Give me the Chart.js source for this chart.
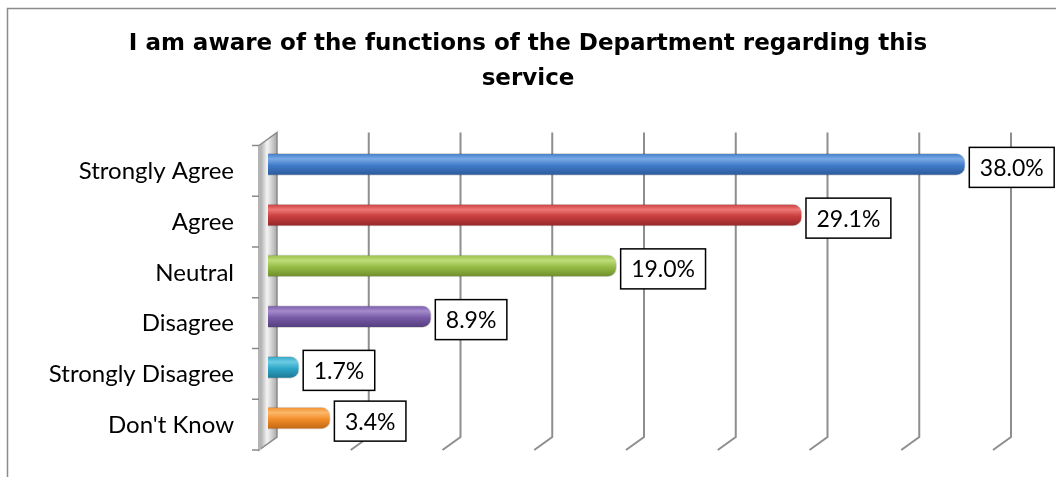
<!DOCTYPE html>
<html>
<head>
<meta charset="utf-8">
<title>Department functions awareness</title>
<script src="https://cdn.jsdelivr.net/npm/chart.js@4"></script>
<style>
  html, body { margin: 0; padding: 0; background: #fff; }
  #wrap { width: 1056px; height: 477px; }
</style>
</head>
<body>
<div id="wrap"><canvas id="awareness-chart" width="1056" height="477"></canvas></div>
<script>
// Survey responses
const titleLines = ['I am aware of the functions of the Department regarding this', 'service'];
const categories = ['Strongly Agree', 'Agree', 'Neutral', 'Disagree', 'Strongly Disagree', "Don't Know"];
const percentages = [38.0, 29.1, 19.0, 8.9, 1.7, 3.4];
const axisMin = 0;
const axisMax = 40;
const gridStep = 5;

// top highlight, body, shadow for each bar
const barShades = [
    ['#79aae6', '#3f7bc8', '#2a5899'],
    ['#ee7676', '#c93d3d', '#922828'],
    ['#bedd78', '#96bc46', '#6c8c2a'],
    ['#a48bcc', '#7759a7', '#533d7a'],
    ['#6ccbe3', '#2ea6c7', '#1d7893'],
    ['#fcb86a', '#f28d29', '#c06612']
];

// depth of the fake 3D box (half of it, in px)
const depthX = 9;
const depthY = 6.5;

function barGradient(ctx) {
    const chart = ctx.chart;
    const shades = barShades[ctx.dataIndex];
    if (!chart.chartArea) return shades[1];
    const y = chart.scales.y.getPixelForValue(ctx.dataIndex);
    const g = chart.ctx.createLinearGradient(0, y - 11, 0, y + 11);
    g.addColorStop(0, shades[1]);
    g.addColorStop(0.25, shades[0]);
    g.addColorStop(0.55, shades[1]);
    g.addColorStop(1, shades[2]);
    return g;
}

// frame, heading, back gridlines and the left wall, drawn under the bars
const backdrop = {
    id: 'backdrop',
    beforeDraw(chart) {
        const c = chart.ctx;
        c.save();
        c.strokeStyle = '#8c8c8c';
        c.lineWidth = 1.5;
        c.beginPath();
        c.moveTo(7.5, chart.height);
        c.lineTo(7.5, 8.5);
        c.lineTo(chart.width, 8.5);
        c.stroke();

        // heading is centred on the whole canvas, not on the plot
        c.fillStyle = '#000000';
        c.font = 'bold 23px "DejaVu Sans"';
        c.textAlign = 'center';
        c.textBaseline = 'middle';
        titleLines.forEach((line, i) => c.fillText(line, chart.width / 2, 44 + i * 35));
        c.restore();
    },
    beforeDatasetsDraw(chart) {
        const c = chart.ctx;
        const xs = chart.scales.x;
        const area = chart.chartArea;
        const top = area.top - depthY;
        const bottom = area.bottom - depthY;

        c.save();
        c.strokeStyle = '#8e8e8e';
        c.lineWidth = 2;
        for (let v = axisMin + gridStep; v <= axisMax; v += gridStep) {
            const x = xs.getPixelForValue(v) + depthX;
            c.beginPath();
            c.moveTo(x, top);
            c.lineTo(x, bottom);
            c.lineTo(x - 2 * depthX, bottom + 2 * depthY);
            c.stroke();
        }

        // wall on the category side
        const xBack = xs.getPixelForValue(axisMin) + depthX;
        const xFront = xBack - 2 * depthX;
        const g = c.createLinearGradient(xFront, 0, xBack, 0);
        g.addColorStop(0, '#9c9c9c');
        g.addColorStop(0.45, '#f4f4f4');
        g.addColorStop(1, '#a8a8a8');
        c.fillStyle = g;
        c.beginPath();
        c.moveTo(xFront, top + 2 * depthY);
        c.lineTo(xBack, top);
        c.lineTo(xBack, bottom);
        c.lineTo(xFront, bottom + 2 * depthY);
        c.closePath();
        c.fill();
        c.strokeStyle = '#8a8a8a';
        c.lineWidth = 1.5;
        c.stroke();
        c.fillStyle = '#b4b4b4';
        c.fillRect(xFront - 1, top + 2 * depthY, 3, bottom - top);

        // category tick marks on the front edge
        c.strokeStyle = '#8a8a8a';
        c.lineWidth = 1.5;
        const ys = chart.scales.y;
        const step = (area.bottom - area.top) / categories.length;
        for (let i = 0; i <= categories.length; i++) {
            const y = ys.top + i * step + depthY;
            c.beginPath();
            c.moveTo(xFront - 7, y);
            c.lineTo(xFront, y);
            c.stroke();
        }
        c.restore();
    }
};

// boxed value labels at the end of each bar
const valueBoxes = {
    id: 'valueBoxes',
    afterDatasetsDraw(chart) {
        const c = chart.ctx;
        const meta = chart.getDatasetMeta(0);
        c.save();
        c.font = '23px Lato';
        c.textBaseline = 'middle';
        c.textAlign = 'left';
        meta.data.forEach((bar, i) => {
            const text = percentages[i].toFixed(1) + '%';
            const w = c.measureText(text).width + 21;
            const h = 40;
            const x = bar.x + 4;
            const y = bar.y + 3 - h / 2;
            c.fillStyle = '#ffffff';
            c.fillRect(x, y, w, h);
            c.strokeStyle = '#000000';
            c.lineWidth = 1.5;
            c.strokeRect(x, y, w, h);
            c.fillStyle = '#000000';
            c.fillText(text, x + 10.5, y + h / 2 + 1);
        });
        c.restore();
    }
};

const ctx = document.getElementById('awareness-chart').getContext('2d');
const chart = new Chart(ctx, {
    type: 'bar',
    data: {
        labels: categories,
        datasets: [{
            data: percentages,
            backgroundColor: barGradient,
            borderColor: 'rgba(0,0,0,0.15)',
            borderWidth: 1,
            borderSkipped: 'start',
            borderRadius: 9,
            barThickness: 22
        }]
    },
    options: {
        indexAxis: 'y',
        responsive: false,
        animation: false,
        layout: {
            autoPadding: false,
            padding: { left: 0, right: 54, top: 139, bottom: 33.5 }
        },
        plugins: {
            legend: { display: false },
            tooltip: { enabled: false },
            title: { display: false }
        },
        scales: {
            x: {
                display: false,
                min: axisMin,
                max: axisMax
            },
            y: {
                grid: { display: false, drawTicks: false },
                border: { display: false },
                afterFit(scale) {
                    scale.width = 268;
                    scale.paddingTop = 0;
                    scale.paddingBottom = 0;
                },
                ticks: {
                    color: '#000000',
                    font: { family: 'Lato', size: 24 },
                    padding: 34,
                    labelOffset: 7
                }
            }
        }
    },
    plugins: [backdrop, valueBoxes]
});
</script>
</body>
</html>
